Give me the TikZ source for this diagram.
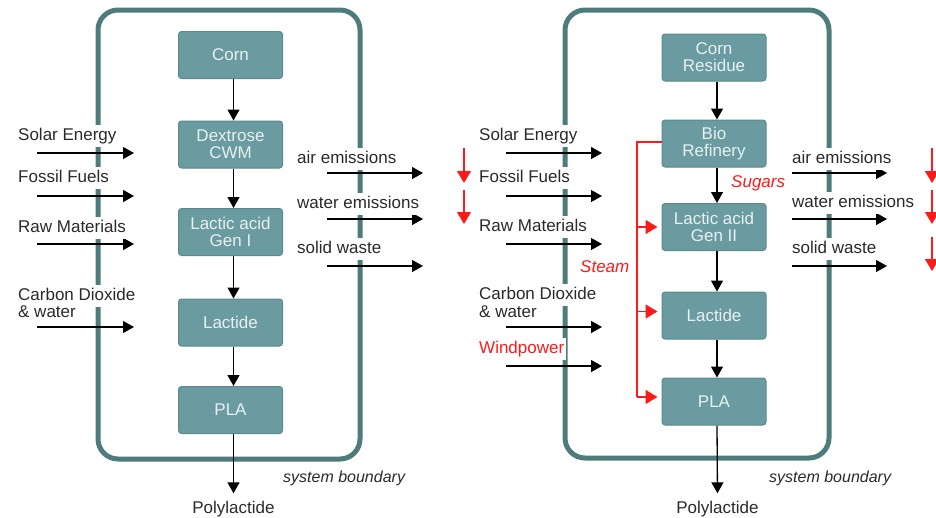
\documentclass[tikz,border=0pt]{standalone}
\usepackage{fontspec}
\setmainfont{Liberation Sans}
\usetikzlibrary{arrows.meta}
\definecolor{boxfill}{HTML}{6A9BA1}
\definecolor{boxedge}{HTML}{5A8A90}
\definecolor{bound}{HTML}{4E7B7B}
\definecolor{boxtext}{HTML}{E8F0F0}
\definecolor{labtext}{HTML}{2A2A2A}
\definecolor{redc}{HTML}{FF1A1A}
\begin{document}
\begin{tikzpicture}[x=1pt,y=-1pt,
  procbox/.style={draw=boxedge, line width=1pt, fill=boxfill, rounded corners=3pt,
    minimum width=104pt, minimum height=47pt, text=boxtext, align=center,
    font=\fontsize{17}{17}\selectfont, inner sep=0pt},
  lab/.style={text=labtext, font=\fontsize{17}{17}\selectfont, fill=white,
    text height=13pt, text depth=4pt, inner xsep=2pt, inner ysep=2.5pt, anchor=west},
  redlab/.style={lab, text=redc},
  note/.style={text=labtext, font=\fontsize{16}{16}\selectfont\itshape,
    text height=13pt, text depth=4pt, inner sep=0pt, anchor=west},
  flow/.style={-{Triangle[length=11pt,width=12pt]}, line width=1.3pt, draw=black},
  redflow/.style={-{Triangle[length=12pt,width=14pt]}, line width=1.3pt, draw=redc, fill=redc},
  steamline/.style={line width=1.2pt, draw=redc},
  boundary/.style={draw=bound, line width=5pt, rounded corners=20pt},
]
\useasboundingbox (0,0) rectangle (936,517);

% ---------- system boundaries ----------
\draw[boundary] (98,10) rectangle (360,459);
\draw[boundary] (565,10) rectangle (829,458);

% ---------- left panel boxes ----------
\node[procbox] (corn1) at (230.5,55) {Corn};
\node[procbox] (dex1) at (230.5,144.5) {Dextrose\\CWM};
\node[procbox] (lac1) at (230.5,232) {Lactic acid\\Gen I};
\node[procbox] (lact1) at (230.5,322.5) {Lactide};
\node[procbox] (pla1) at (230.5,410) {PLA};
\node[lab, fill=none, anchor=center] (poly1) at (233.5,508.5) {Polylactide};

\draw[flow] ([xshift=3pt]corn1.south) -- ([xshift=3pt]dex1.north);
\draw[flow] ([xshift=3pt]dex1.south) -- ([xshift=3pt]lac1.north);
\draw[flow] ([xshift=3pt]lac1.south) -- ([xshift=3pt]lact1.north);
\draw[flow] ([xshift=3pt]lact1.south) -- ([xshift=3pt]pla1.north);
\draw[flow, shorten >=4pt] ([xshift=3pt]pla1.south) -- (poly1.north);

% ---------- right panel boxes ----------
\node[procbox] (cres2) at (714,57.5) {Corn\\Residue};
\node[procbox] (bio2) at (714,143.5) {Bio\\Refinery};
\node[procbox] (lac2) at (714,227) {Lactic acid\\Gen II};
\node[procbox] (lact2) at (714,315.5) {Lactide};
\node[procbox] (pla2) at (714,401.5) {PLA};
\node[lab, fill=none, anchor=center] (poly2) at (717.5,508.5) {Polylactide};

\draw[flow] ([xshift=3pt]cres2.south) -- ([xshift=3pt]bio2.north);
\draw[flow] ([xshift=3pt]bio2.south) -- ([xshift=3pt]lac2.north);
\draw[flow] ([xshift=3pt]lac2.south) -- ([xshift=3pt]lact2.north);
\draw[flow] ([xshift=3pt]lact2.south) -- ([xshift=3pt]pla2.north);
\draw[flow, shorten >=4pt] ([xshift=3pt]pla2.south) -- (poly2.north);

% ---------- steam distribution ----------
\coordinate (stm) at (637,0);
\coordinate (bi2out) at ([yshift=1.5pt]bio2.west);
\coordinate (lt2in) at ([yshift=4pt]lact2.west);
\coordinate (pl2in) at ([yshift=4.5pt]pla2.west);
\draw[steamline] (bi2out) -- (stm |- bi2out) -- (stm |- pl2in);
\draw[redflow, shorten >=4pt] (stm |- lac2.west) -- (lac2.west);
\draw[redflow, shorten >=4pt] (stm |- lt2in) -- (lt2in);
\draw[redflow, shorten >=4pt] (stm |- pl2in) -- (pl2in);

% ---------- input / output arrows ----------
\foreach \n/\y in {1/153,2/196,3/244,4/327}{
  \coordinate (inLa\n) at (37,\y); \coordinate (inLb\n) at (134,\y);
  \draw[flow] (inLa\n) -- (inLb\n);
}
\foreach \n/\y in {1/173,2/219,3/266}{
  \coordinate (outLa\n) at (327,\y); \coordinate (outLb\n) at (423,\y);
  \draw[flow] (outLa\n) -- (outLb\n);
}
\foreach \n/\y in {1/153,2/196,3/244,4/327,5/366}{
  \coordinate (inRa\n) at (506,\y); \coordinate (inRb\n) at (602,\y);
  \draw[flow] (inRa\n) -- (inRb\n);
}
\foreach \n/\y in {1/173,2/219,3/266}{
  \coordinate (outRa\n) at (792,\y); \coordinate (outRb\n) at (887,\y);
  \draw[flow] (outRa\n) -- (outRb\n);
}
% red reduction arrows
\foreach \n/\ya/\yb in {1/148/183,2/190/224}{
  \coordinate (rLa\n) at (464,\ya); \coordinate (rLb\n) at (464,\yb);
  \draw[redflow] (rLa\n) -- (rLb\n);
}
\foreach \n/\ya/\yb in {1/148/183,2/190/224,3/237/271}{
  \coordinate (rRa\n) at (932,\ya); \coordinate (rRb\n) at (932,\yb);
  \draw[redflow] (rRa\n) -- (rRb\n);
}

% ---------- labels (white fill breaks the boundary) ----------
\node[lab] (solL) at (16,135.5) {Solar Energy};
\node[lab] (fosL) at (16,177.5) {Fossil Fuels};
\node[lab] (rawL) at (16,227.5) {Raw Materials};
\node[lab] (co2L) at (16,295.5) {Carbon Dioxide};
\node[lab] (watL) at (16,312.5) {\& water};
\node[lab] (airL) at (295,158.5) {air emissions};
\node[lab] (wemL) at (295,203.5) {water emissions};
\node[lab] (solwL) at (295,248.5) {solid waste};
\node[note] (sbL) at (283,477.5) {system boundary};

\node[lab] (solR) at (477,135.5) {Solar Energy};
\node[lab] (fosR) at (477,177.5) {Fossil Fuels};
\node[lab] (rawR) at (477,226.5) {Raw Materials};
\node[lab] (co2R) at (477,294.5) {Carbon Dioxide};
\node[lab] (watR) at (477,312.5) {\& water};
\node[redlab] (windR) at (477,348.5) {Windpower};
\node[lab] (airR) at (790,158.5) {air emissions};
\node[lab] (wemR) at (790,202.5) {water emissions};
\node[lab] (solwR) at (790,248.5) {solid waste};
\node[note] (sbR) at (769,477.5) {system boundary};

\node[redlab, fill=none, font=\fontsize{17}{17}\selectfont\itshape] (sugar) at (729,182.5) {Sugars};
\node[redlab, fill=none, font=\fontsize{17}{17}\selectfont\itshape] (steam) at (578,267.5) {Steam};
\end{tikzpicture}
\end{document}
